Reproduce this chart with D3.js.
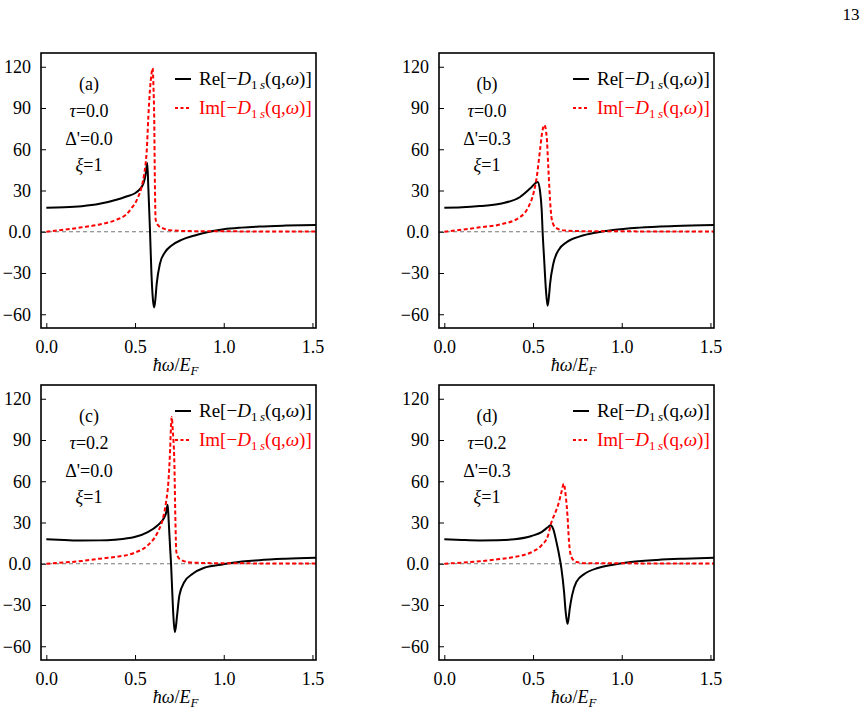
<!DOCTYPE html>
<html lang="en">
<head>
<meta charset="UTF-8">
<title>D1s response</title>
<script src="https://cdn.jsdelivr.net/npm/d3@7/dist/d3.min.js"></script>
<style>
    body { margin: 0; background: #fff; }
    svg text { font-family: "Liberation Serif", "Times New Roman", serif !important; }
</style>
</head>
<body>
<script>
    // axis ticks
    const xTicks = [0, 0.5, 1.0, 1.5];
    const yTicks = [-60, -30, 0, 30, 60, 90, 120];

    // panel parameters
    const panelLabels = ['(a)', '(b)', '(c)', '(d)'];
    const tauValues = ['0.0', '0.0', '0.2', '0.2'];
    const deltaValues = ['0.0', '0.3', '0.0', '0.3'];
    const xiValues = ['1', '1', '1', '1'];

    // curves (ħω/E_F, value)
    const reA_w = [0, 0.1, 0.2, 0.3, 0.4, 0.45, 0.5, 0.52, 0.547, 0.56, 0.569, 0.575, 0.584, 0.593, 0.603, 0.608, 0.614, 0.622, 0.64, 0.669, 0.706, 0.762, 0.837, 0.9, 1.0, 1.1, 1.2, 1.35, 1.52];
    const reA_v = [17.5, 17.8, 18.6, 20.3, 23.4, 25.6, 28, 30, 35, 42, 50, 32, 2, -32, -52, -55, -50, -38, -23.4, -14.9, -10, -5.9, -2.7, -0.5, 1.8, 3, 3.8, 4.5, 5];
    const imA_w = [0, 0.1, 0.2, 0.3, 0.4, 0.45, 0.48, 0.517, 0.537, 0.552, 0.56, 0.566, 0.575, 0.584, 0.593, 0.599, 0.604, 0.608, 0.612, 0.616, 0.631, 0.659, 0.706, 0.8, 1.0, 1.52];
    const imA_v = [0, 1.5, 3.2, 5.3, 9, 12.5, 17, 25, 32.6, 42.3, 50, 59, 83.6, 103, 115, 119, 105, 83.6, 35, 9, 4.6, 2.4, 1, 0.5, 0.3, 0.2];

    const reB_w = [0, 0.1, 0.2, 0.315, 0.427, 0.483, 0.511, 0.526, 0.539, 0.549, 0.554, 0.562, 0.573, 0.582, 0.589, 0.596, 0.614, 0.642, 0.689, 0.764, 0.858, 0.95, 1.1, 1.3, 1.52];
    const reB_v = [17.5, 17.8, 18.7, 20.4, 25.3, 31.4, 35, 36.2, 30, 15.5, 0, -18.5, -42.8, -53.8, -48, -38, -23.4, -13.7, -7.6, -3.4, -0.5, 1.3, 3, 4.2, 5];
    const imB_w = [0, 0.1, 0.2, 0.315, 0.427, 0.474, 0.502, 0.521, 0.539, 0.552, 0.564, 0.577, 0.586, 0.596, 0.605, 0.624, 0.67, 0.8, 1.0, 1.52];
    const imB_v = [0, 1.5, 3.2, 5.3, 10.7, 18, 27.7, 39.9, 59, 72.7, 77.6, 69, 47, 22.8, 9.5, 3.4, 1, 0.4, 0.3, 0.2];

    const reC_w = [0, 0.1, 0.2, 0.3, 0.385, 0.497, 0.572, 0.628, 0.666, 0.675, 0.684, 0.69, 0.698, 0.703, 0.709, 0.716, 0.724, 0.73, 0.737, 0.75, 0.778, 0.825, 0.89, 0.984, 1.05, 1.2, 1.35, 1.52];
    const reC_v = [17.8, 17.3, 16.9, 17, 17.5, 19.4, 23, 28, 34, 37, 43, 30.3, 11, 0, -18, -37.6, -49.7, -46, -37.6, -23, -13.3, -7.3, -2.9, -0.7, 0.8, 2.6, 3.6, 4.3];
    const imC_w = [0, 0.1, 0.2, 0.3, 0.385, 0.497, 0.572, 0.628, 0.657, 0.675, 0.688, 0.698, 0.703, 0.707, 0.712, 0.722, 0.727, 0.733, 0.75, 0.797, 0.9, 1.1, 1.52];
    const imC_v = [0, 0.9, 2, 3.7, 4.9, 8, 13.4, 23, 32.8, 45, 59.5, 83.7, 100.7, 106.8, 98.3, 71.6, 35, 8.5, 3.6, 1.2, 0.5, 0.3, 0.2];

    const reD_w = [0, 0.1, 0.2, 0.3, 0.395, 0.492, 0.548, 0.585, 0.599, 0.613, 0.632, 0.651, 0.66, 0.675, 0.684, 0.694, 0.7, 0.707, 0.72, 0.744, 0.791, 0.866, 0.959, 1.05, 1.2, 1.35, 1.52];
    const reD_v = [17.8, 17.3, 17, 17.1, 17.8, 20.2, 23, 26.7, 28, 25.5, 15.8, 3.6, -3.6, -20.6, -35, -43.7, -40, -32.7, -23, -13.3, -7.3, -3.1, -0.5, 1.2, 2.8, 3.7, 4.4];
    const imD_w = [0, 0.1, 0.2, 0.3, 0.395, 0.492, 0.548, 0.585, 0.604, 0.623, 0.641, 0.66, 0.673, 0.684, 0.694, 0.703, 0.716, 0.744, 0.809, 1.0, 1.52];
    const imD_v = [0, 0.8, 1.8, 3.2, 4.9, 8.5, 13.4, 20.7, 30.3, 36.4, 42.5, 52, 58.2, 49.8, 35.2, 15.8, 4.9, 1.2, 0.4, 0.3, 0.2];

    const reSeries = [[reA_w, reA_v], [reB_w, reB_v], [reC_w, reC_v], [reD_w, reD_v]];
    const imSeries = [[imA_w, imA_v], [imB_w, imB_v], [imC_w, imC_v], [imD_w, imD_v]];

    // canvas
    const width = 867;
    const height = 720;
    const panelW = 275;
    const panelH = 275;
    const panelPos = [[41, 53], [439, 53], [41, 385], [439, 385]];
    const serif = '"Liberation Serif", "Times New Roman", serif';

    const svg = d3.select('body')
        .append('svg')
        .attr('width', width)
        .attr('height', height)
        .style('font-family', serif);

    // page number
    svg.append('text')
        .attr('x', 851)
        .attr('y', 20)
        .attr('text-anchor', 'middle')
        .attr('font-size', 17)
        .text('13');

    function legendLabel(t, kind) {
        t.append('tspan').text(kind + '[\u2212');
        t.append('tspan').attr('font-style', 'italic').text('D');
        t.append('tspan').attr('font-size', 13).attr('dy', 4).text('1\u2009');
        t.append('tspan').attr('font-size', 13).attr('font-style', 'italic').text('s');
        t.append('tspan').attr('dy', -4).text('(q,');
        t.append('tspan').attr('font-style', 'italic').text('\u03c9');
        t.append('tspan').text(')]');
    }

    panelPos.forEach(([left, top], i) => {
        const g = svg.append('g').attr('transform', `translate(${left},${top})`);

        const x = d3.scaleLinear().domain([-0.03, 1.52]).range([0, panelW]);
        const y = d3.scaleLinear().domain([-70, 130]).range([panelH, 0]);

        // clip
        g.append('clipPath').attr('id', 'clip' + i)
            .append('rect').attr('width', panelW).attr('height', panelH);

        // zero line
        g.append('line')
            .attr('x1', 0).attr('x2', panelW)
            .attr('y1', y(0)).attr('y2', y(0))
            .attr('stroke', '#666')
            .attr('stroke-width', 0.9)
            .attr('stroke-dasharray', '4,3');

        const line = d3.line()
            .x(d => x(d[0]))
            .y(d => y(d[1]))
            .curve(d3.curveMonotoneX);

        const re = d3.zip(reSeries[i][0], reSeries[i][1]);
        const im = d3.zip(imSeries[i][0], imSeries[i][1]);

        const plot = g.append('g').attr('clip-path', `url(#clip${i})`);
        plot.append('path')
            .attr('d', line(re))
            .attr('fill', 'none')
            .attr('stroke', '#000')
            .attr('stroke-width', 2);
        plot.append('path')
            .attr('d', line(im))
            .attr('fill', 'none')
            .attr('stroke', '#ff0000')
            .attr('stroke-width', 2)
            .attr('stroke-dasharray', '4,2.5');

        // frame
        g.append('rect')
            .attr('width', panelW).attr('height', panelH)
            .attr('fill', 'none')
            .attr('stroke', '#000')
            .attr('stroke-width', 1.6);

        // axes, ticks pointing inward
        const xAxis = d3.axisBottom(x).tickValues(xTicks).tickSizeInner(-5).tickSizeOuter(0).tickPadding(12)
            .tickFormat(d3.format('.1f'));
        const yAxis = d3.axisLeft(y).tickValues(yTicks).tickSizeInner(-5).tickSizeOuter(0).tickPadding(10)
            .tickFormat(d => d === 0 ? '0.0' : d3.format('d')(d).replace('-', '\u2212'));

        const gx = g.append('g').attr('transform', `translate(0,${panelH})`).call(xAxis);
        const gy = g.append('g').call(yAxis);
        [gx, gy].forEach(a => {
            a.attr('font-family', serif).attr('font-size', 18);
            a.select('.domain').remove();
            a.selectAll('.tick line').attr('stroke', '#000').attr('stroke-width', 1);
            a.selectAll('.tick text').attr('fill', '#000');
        });

        // x label
        const xl = g.append('text')
            .attr('x', panelW / 2 - 3)
            .attr('y', panelH + 43)
            .attr('text-anchor', 'middle')
            .attr('font-size', 18);
        xl.append('tspan').attr('font-style', 'italic').text('\u0127\u03c9');
        xl.append('tspan').text('/');
        xl.append('tspan').attr('font-style', 'italic').text('E');
        xl.append('tspan').attr('font-style', 'italic').attr('font-size', 13).attr('dy', 4).text('F');

        // annotation block
        const ann = g.append('g').attr('font-size', 18).attr('text-anchor', 'middle');
        ann.append('text').attr('x', 48).attr('y', 37).text(panelLabels[i]);
        const t1 = ann.append('text').attr('x', 48).attr('y', 64);
        t1.append('tspan').attr('font-style', 'italic').text('\u03c4');
        t1.append('tspan').text('=' + tauValues[i]);
        ann.append('text').attr('x', 48).attr('y', 92).text('\u0394\'=' + deltaValues[i]);
        const t3 = ann.append('text').attr('x', 48).attr('y', 118);
        t3.append('tspan').attr('font-style', 'italic').text('\u03be');
        t3.append('tspan').text('=' + xiValues[i]);

        // legend
        const lg = g.append('g');
        lg.append('line')
            .attr('x1', 134).attr('x2', 150).attr('y1', 26).attr('y2', 26)
            .attr('stroke', '#000').attr('stroke-width', 2);
        legendLabel(lg.append('text').attr('x', 158).attr('y', 32).attr('font-size', 19), 'Re');
        lg.append('line')
            .attr('x1', 134).attr('x2', 150).attr('y1', 55).attr('y2', 55)
            .attr('stroke', '#ff0000').attr('stroke-width', 2).attr('stroke-dasharray', '3,2.5');
        legendLabel(lg.append('text').attr('x', 158).attr('y', 61).attr('font-size', 19).attr('fill', '#ff0000'), 'Im');
    });
</script>
</body>
</html>
